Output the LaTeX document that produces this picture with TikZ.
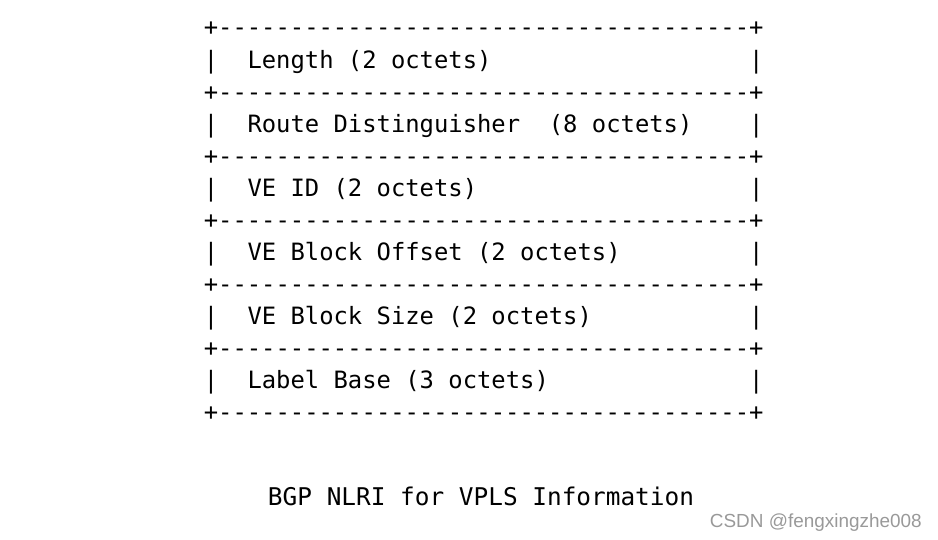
\documentclass[tikz,border=0pt]{standalone}
\usepackage{fontspec}
\setmonofont{DejaVu Sans Mono}
\newfontfamily\markfont{Liberation Sans}
\usetikzlibrary{positioning}

\begin{document}
\begin{tikzpicture}[x=0.75pt,y=-0.75pt,
    ascii/.style={anchor=base west,inner sep=0pt,outer sep=0pt,font=\ttfamily\fontsize{17.88}{20}\selectfont},
    ]
    \useasboundingbox (0,0) rectangle (938,539);

    % +----+ lines between the fields
    \foreach \i in {0,2,...,12} {
        \node[ascii] (sep\i) at (203.8,36+32.08*\i) {+-------------------------------------+};
    }

    % | ... | borders of the field rows
    \foreach \i in {1,3,...,11} {
        \node[ascii] (lbar\i) at (203.8,36+32.08*\i) {|};
        \node[ascii] (rbar\i) at (749.1,36+32.08*\i) {|};
    }

    % Fields
    \node[ascii] (len) at (247.5,36+32.08*1) {Length (2 octets)};
    \node[ascii] (rd) at (247.5,36+32.08*3) {Route Distinguisher\ \ (8 octets)};
    \node[ascii] (veid) at (247.5,36+32.08*5) {VE ID (2 octets)};
    \node[ascii] (vbo) at (247.5,36+32.08*7) {VE Block Offset (2 octets)};
    \node[ascii] (vbs) at (247.5,36+32.08*9) {VE Block Size (2 octets)};
    \node[ascii] (lb) at (247.5,36+32.08*11) {Label Base (3 octets)};

    % caption
    \node[ascii,anchor=base,font=\ttfamily\fontsize{18.3}{20}\selectfont] (title) at (481,505) {BGP NLRI for VPLS Information};

    % watermark
    \node[anchor=base east,inner sep=0pt,text=black!40,font=\markfont\fontsize{14.2}{16}\selectfont] (mark) at (922,527) {CSDN @fengxingzhe008};

\end{tikzpicture}
\end{document}
